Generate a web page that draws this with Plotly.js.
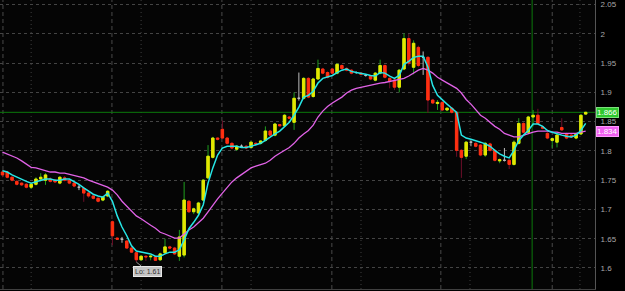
<!DOCTYPE html>
<html><head><meta charset="utf-8">
<script src="https://cdn.plot.ly/plotly-3.0.1.min.js"></script>
<style>html,body{margin:0;padding:0;background:#000;}#chart{width:625px;height:291px;}</style>
</head><body><div id="chart"></div>
<script>
// OHLC per bar
const openP = [1.764,1.764,1.755,1.748,1.745,1.743,1.738,1.743,1.752,1.750,1.752,1.750,1.745,1.754,1.750,1.745,1.738,1.736,1.728,1.723,
1.719,1.716,1.723,1.679,1.651,1.649,1.646,1.634,1.626,1.614,1.620,1.619,1.619,1.614,1.626,1.636,1.634,1.620,1.622,1.714,
1.696,1.694,1.716,1.754,1.789,1.822,1.837,1.822,1.813,1.803,1.808,1.808,1.806,1.813,1.813,1.818,1.834,1.827,1.845,1.843,
1.858,1.849,1.890,1.890,1.924,1.893,1.923,1.940,1.934,1.940,1.933,1.946,1.941,1.938,1.934,1.933,1.929,1.928,1.921,1.933,
1.946,1.924,1.921,1.909,1.940,1.992,1.943,1.977,1.960,1.960,1.887,1.881,1.883,1.870,1.873,1.866,1.801,1.791,1.815,1.813,
1.810,1.793,1.812,1.801,1.783,1.784,1.784,1.777,1.813,1.847,1.832,1.858,1.861,1.841,1.830,1.818,1.815,1.840,1.829,1.827,
1.822,1.829,1.863];
const highP = [1.767,1.766,1.757,1.750,1.746,1.745,1.745,1.755,1.762,1.762,1.755,1.752,1.757,1.757,1.752,1.747,1.742,1.738,1.730,1.724,
1.721,1.723,1.733,1.681,1.652,1.653,1.647,1.636,1.627,1.622,1.621,1.622,1.620,1.626,1.650,1.638,1.636,1.665,1.747,1.716,
1.703,1.713,1.752,1.810,1.824,1.823,1.852,1.824,1.815,1.810,1.811,1.810,1.817,1.815,1.818,1.842,1.836,1.848,1.846,1.863,
1.860,1.900,1.934,1.926,1.926,1.925,1.956,1.942,1.936,1.942,1.950,1.948,1.943,1.940,1.936,1.935,1.931,1.930,1.935,1.956,
1.948,1.926,1.923,1.940,2.001,2.000,1.989,1.980,1.970,1.962,1.889,1.887,1.885,1.875,1.875,1.868,1.803,1.817,1.818,1.815,
1.812,1.815,1.814,1.803,1.787,1.805,1.786,1.818,1.856,1.849,1.860,1.870,1.872,1.843,1.832,1.823,1.829,1.856,1.831,1.829,
1.831,1.863,1.867];
const lowP = [1.755,1.753,1.748,1.741,1.740,1.736,1.735,1.741,1.748,1.742,1.746,1.745,1.743,1.748,1.743,1.738,1.733,1.713,1.720,1.717,
1.712,1.714,1.721,1.639,1.648,1.643,1.633,1.626,1.610,1.612,1.612,1.613,1.612,1.612,1.624,1.632,1.622,1.612,1.618,1.694,
1.692,1.692,1.714,1.752,1.787,1.818,1.820,1.811,1.803,1.800,1.805,1.803,1.804,1.810,1.811,1.816,1.825,1.825,1.842,1.841,
1.854,1.836,1.886,1.888,1.890,1.891,1.921,1.931,1.924,1.931,1.931,1.939,1.936,1.931,1.932,1.929,1.927,1.921,1.919,1.931,
1.924,1.907,1.904,1.900,1.938,1.946,1.931,1.943,1.930,1.865,1.880,1.870,1.868,1.868,1.864,1.790,1.754,1.786,1.808,1.806,
1.791,1.790,1.799,1.782,1.779,1.782,1.769,1.775,1.811,1.830,1.830,1.842,1.845,1.837,1.820,1.805,1.806,1.834,1.820,1.822,
1.820,1.827,1.862];
const closeP = [1.759,1.755,1.750,1.743,1.742,1.738,1.743,1.752,1.755,1.759,1.748,1.747,1.755,1.750,1.745,1.740,1.738,1.728,1.723,1.719,
1.714,1.721,1.731,1.655,1.649,1.649,1.634,1.627,1.614,1.620,1.619,1.620,1.613,1.624,1.636,1.634,1.624,1.653,1.716,1.696,
1.701,1.711,1.750,1.791,1.822,1.820,1.822,1.813,1.805,1.808,1.808,1.805,1.815,1.812,1.817,1.834,1.827,1.846,1.843,1.861,
1.856,1.890,1.890,1.924,1.892,1.923,1.941,1.933,1.926,1.933,1.948,1.941,1.938,1.933,1.934,1.931,1.929,1.923,1.933,1.946,
1.926,1.919,1.909,1.938,1.992,1.950,1.984,1.946,1.960,1.887,1.882,1.883,1.870,1.873,1.866,1.801,1.789,1.815,1.815,1.808,
1.793,1.813,1.801,1.784,1.785,1.784,1.777,1.815,1.847,1.832,1.858,1.861,1.847,1.839,1.822,1.821,1.827,1.836,1.822,1.824,
1.829,1.861,1.866];
// Fast (cyan) and slow (magenta) moving averages
const fastMA = [1.766,1.764,1.759,1.755,1.752,1.748,1.745,1.747,1.750,1.752,1.752,1.750,1.750,1.752,1.752,1.748,1.743,1.737,1.731,1.726,
1.723,1.721,1.728,1.714,1.689,1.670,1.655,1.638,1.629,1.627,1.626,1.624,1.620,1.620,1.624,1.627,1.627,1.631,1.648,1.667,
1.678,1.690,1.708,1.745,1.771,1.793,1.805,1.808,1.808,1.808,1.806,1.806,1.808,1.810,1.813,1.818,1.824,1.829,1.834,1.841,
1.849,1.861,1.875,1.892,1.895,1.902,1.916,1.924,1.926,1.929,1.934,1.938,1.940,1.936,1.934,1.933,1.931,1.929,1.928,1.934,
1.933,1.928,1.924,1.929,1.948,1.953,1.960,1.962,1.962,1.943,1.912,1.895,1.887,1.880,1.873,1.866,1.827,1.822,1.820,1.818,
1.815,1.812,1.808,1.801,1.795,1.791,1.788,1.801,1.818,1.827,1.835,1.846,1.846,1.842,1.835,1.832,1.829,1.827,1.825,1.824,
1.827,1.835,1.847];
const slowMA = [1.798,1.795,1.791,1.788,1.783,1.777,1.772,1.771,1.769,1.766,1.764,1.764,1.762,1.762,1.760,1.759,1.757,1.754,1.750,1.747,
1.745,1.742,1.738,1.733,1.725,1.714,1.706,1.697,1.689,1.684,1.678,1.673,1.668,1.661,1.658,1.655,1.651,1.651,1.658,1.665,
1.670,1.677,1.685,1.696,1.708,1.718,1.728,1.738,1.747,1.754,1.760,1.766,1.771,1.774,1.776,1.779,1.784,1.791,1.796,1.801,
1.806,1.813,1.822,1.829,1.835,1.844,1.858,1.868,1.876,1.882,1.887,1.892,1.899,1.904,1.907,1.909,1.911,1.912,1.914,1.916,
1.917,1.919,1.921,1.923,1.924,1.928,1.933,1.938,1.941,1.938,1.933,1.926,1.921,1.916,1.911,1.907,1.899,1.888,1.880,1.870,
1.861,1.856,1.849,1.842,1.837,1.830,1.827,1.824,1.824,1.827,1.830,1.832,1.834,1.834,1.834,1.832,1.832,1.830,1.830,1.830,
1.830,1.832,1.834];
const yTicks = [1.6,1.65,1.7,1.75,1.8,1.85,1.9,1.95,2,2.05];
const lastPriceText = '1.866';
const slowLastText = '1.834';
const lowText = 'Lo: 1.61';

const idx = openP.map((_, i) => i);
const isDoji = i => openP[i] === closeP[i];
function subset(f) {
  const r = {x: [], o: [], h: [], l: [], c: []};
  idx.forEach(i => { if (f(i)) { r.x.push(i); r.o.push(openP[i]); r.h.push(highP[i]); r.l.push(lowP[i]); r.c.push(closeP[i]); } });
  return r;
}
const norm = subset(i => !isDoji(i));
const doji = subset(isDoji);
const lastIdx = idx.length - 1;
let lowIdx = 0; lowP.forEach((v, i) => { if (v < lowP[lowIdx]) lowIdx = i; });

const UP = '#e6e600', UPW = '#1f9e1f', DN = '#ff3010', DNW = '#6e0f2a';
const traces = [
  {type: 'candlestick', x: norm.x, open: norm.o, high: norm.h, low: norm.l, close: norm.c,
   increasing: {line: {color: UPW, width: 1}, fillcolor: UPW},
   decreasing: {line: {color: DNW, width: 1}, fillcolor: DNW}, hoverinfo: 'skip', showlegend: false},
  {type: 'candlestick', x: norm.x, open: norm.o, close: norm.c,
   high: norm.x.map((_, k) => Math.max(norm.o[k], norm.c[k])),
   low: norm.x.map((_, k) => Math.min(norm.o[k], norm.c[k])),
   increasing: {line: {color: UP, width: 1}, fillcolor: UP},
   decreasing: {line: {color: DN, width: 1}, fillcolor: DN}, hoverinfo: 'skip', showlegend: false},
  {type: 'candlestick', x: doji.x, open: doji.o, high: doji.h, low: doji.l, close: doji.c,
   increasing: {line: {color: '#bdbdbd', width: 1}, fillcolor: '#bdbdbd'},
   decreasing: {line: {color: '#bdbdbd', width: 1}, fillcolor: '#bdbdbd'}, hoverinfo: 'skip', showlegend: false},
  {type: 'scatter', mode: 'lines', x: idx, y: slowMA, line: {color: '#e062e6', width: 1.3}, hoverinfo: 'skip', showlegend: false},
  {type: 'scatter', mode: 'lines', x: idx, y: fastMA, line: {color: '#27e6e6', width: 1.5}, hoverinfo: 'skip', showlegend: false}
];

const shapes = [];
[0.1, 22.9, 45.9, 68.9, 91.7, 115].forEach(v => shapes.push({type: 'line', xref: 'x', yref: 'paper', x0: v, x1: v, y0: 0, y1: 1, layer: 'below', line: {color: '#4a4a4a', width: 1, dash: '4px,3px'}}));
[6, 29, 52, 75, 97.8, 120.8].forEach(v => shapes.push({type: 'line', xref: 'x', yref: 'paper', x0: v, x1: v, y0: 0, y1: 1, layer: 'below', line: {color: '#3e3e3e', width: 1, dash: '1px,3px'}}));
shapes.push({type: 'line', xref: 'x', yref: 'paper', x0: 110.8, x1: 110.8, y0: 0, y1: 1, layer: 'below', line: {color: '#0c7a0c', width: 1}});
shapes.push({type: 'line', xref: 'paper', yref: 'y', x0: 0, x1: 1, y0: closeP[lastIdx], y1: closeP[lastIdx], layer: 'below', line: {color: '#0c7a0c', width: 1}});

const annotations = [
  {xref: 'paper', yref: 'y', x: 1, y: closeP[lastIdx], xanchor: 'left', xshift: 1, text: lastPriceText, showarrow: false,
   bgcolor: '#2ec82e', bordercolor: '#7be07b', borderwidth: 1, borderpad: 0, font: {family: 'Liberation Sans, Arial', size: 8, color: '#ffffff'}},
  {xref: 'paper', yref: 'y', x: 1, y: slowMA[lastIdx], xanchor: 'left', xshift: 1, text: slowLastText, showarrow: false,
   bgcolor: '#f060f0', bordercolor: '#ff9cff', borderwidth: 1, borderpad: 0, font: {family: 'Liberation Sans, Arial', size: 8, color: '#ffffff'}},
  {xref: 'x', yref: 'y', x: lowIdx, y: lowP[lowIdx], text: lowText, showarrow: true, arrowhead: 0, arrowwidth: 1, arrowcolor: '#9a9a9a',
   ax: 11, ay: 9, bgcolor: '#c4c4c4', bordercolor: '#e8e8e8', borderwidth: 1, borderpad: 1,
   font: {family: 'Liberation Sans, Arial', size: 7, color: '#333333'}}
];

const layout = {
  width: 625, height: 291,
  margin: {l: 0, r: 30, t: 0, b: 2, pad: 0},
  paper_bgcolor: '#000000', plot_bgcolor: '#050505',
  showlegend: false, boxgap: 0.28, hovermode: false,
  xaxis: {type: 'linear', range: [-0.52, 123.95], showticklabels: false, showgrid: false, zeroline: false,
          showline: true, linecolor: '#404040', ticks: '', rangeslider: {visible: false}, fixedrange: true},
  yaxis: {side: 'right', range: [1.564, 2.058], tickvals: yTicks, showgrid: true, gridcolor: '#444444', griddash: 'dot', gridwidth: 1,
          zeroline: false, showline: true, linecolor: '#555555', ticks: '', ticklabelstandoff: 3, ticklabeloverflow: 'allow',
          tickfont: {family: 'Liberation Sans, Arial', size: 8, color: '#a8a8a8'}, fixedrange: true},
  shapes: shapes, annotations: annotations
};
Plotly.newPlot('chart', traces, layout, {staticPlot: true, displayModeBar: false});
</script></body></html>
